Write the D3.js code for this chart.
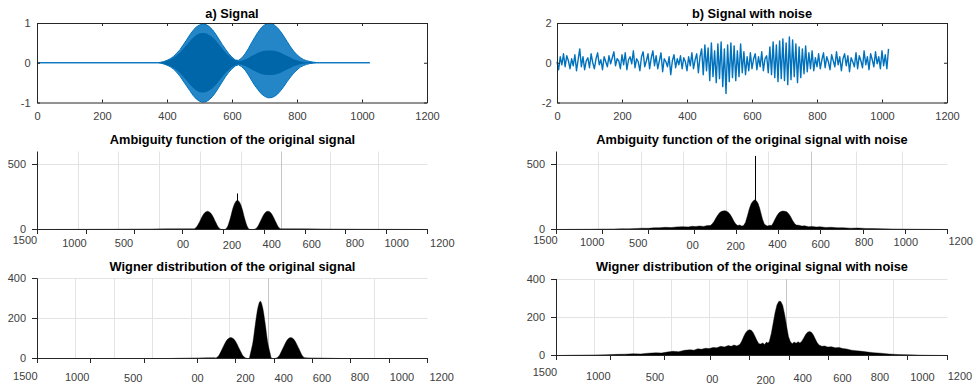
<!DOCTYPE html>
<html>
<head>
<meta charset="utf-8">
<script src="https://cdn.jsdelivr.net/npm/d3@7"></script>
<style>
  html, body { margin: 0; padding: 0; background: #fff; }
  svg { display: block; }
</style>
</head>
<body>
<svg id="chart" width="975" height="385"></svg>
<script>
// ---------- data ----------
// time axis ticks for the two signal plots
const timeTicks = [0, 200, 400, 600, 800, 1000, 1200];
const signalYTicks = [-1, 0, 1];
const noisyYTicks = [-2, 0, 2];

// clean signal: envelope of the two chirp packets (upper, lower, dense core)
const sigT = [0, 370, 380, 390, 400, 410, 420, 430, 440, 450, 460, 470, 480, 490, 500, 510, 520, 530, 540, 550,
  560, 570, 580, 590, 600, 610, 620, 630, 640, 650, 660, 670, 680, 690, 700, 710, 720, 730, 740, 750,
  760, 770, 780, 790, 800, 810, 820, 830, 840, 850, 860, 870, 1024];
const sigUpper = [0, 0, 0.01, 0.03, 0.06, 0.10, 0.16, 0.24, 0.33, 0.45, 0.57, 0.70, 0.81, 0.90, 0.95, 0.97, 0.96, 0.91, 0.83, 0.72,
  0.59, 0.46, 0.34, 0.23, 0.14, 0.07, 0.06, 0.12, 0.22, 0.35, 0.50, 0.64, 0.77, 0.88, 0.95, 0.99, 0.99, 0.95, 0.88, 0.78,
  0.66, 0.53, 0.40, 0.29, 0.20, 0.13, 0.08, 0.05, 0.03, 0.015, 0.005, 0, 0];
const sigLower = [0, 0, -0.01, -0.03, -0.06, -0.10, -0.16, -0.24, -0.34, -0.46, -0.58, -0.70, -0.82, -0.91, -0.97, -0.99, -0.98, -0.93, -0.85, -0.74,
  -0.61, -0.48, -0.35, -0.24, -0.15, -0.08, -0.05, -0.10, -0.18, -0.30, -0.44, -0.57, -0.68, -0.78, -0.84, -0.88, -0.88, -0.85, -0.79, -0.70,
  -0.59, -0.47, -0.36, -0.26, -0.18, -0.11, -0.07, -0.04, -0.02, -0.01, -0.005, 0, 0];
const sigCore = [0, 0, 0.01, 0.02, 0.05, 0.08, 0.13, 0.19, 0.26, 0.35, 0.44, 0.54, 0.63, 0.70, 0.74, 0.75, 0.74, 0.70, 0.64, 0.56,
  0.46, 0.36, 0.26, 0.18, 0.11, 0.06, 0.04, 0.05, 0.08, 0.12, 0.17, 0.21, 0.25, 0.28, 0.30, 0.31, 0.31, 0.30, 0.28, 0.25,
  0.21, 0.17, 0.13, 0.09, 0.06, 0.04, 0.025, 0.015, 0.01, 0.005, 0, 0, 0];

// noisy signal, one value every 5 samples
const noisyStep = 5;
const noisyValues = [
  0.05, -0.35, 0.3, -0.1, 0.45, -0.2, 0.35, 0.1, -0.3, 0.2,
  -0.15, 0.4, -0.4, 0.15, 0.7, -0.2, 0.3, -0.35, 0.1, 0.25,
  -0.25, 0.45, 0.0, -0.3, 0.2, 0.5, -0.1, 0.15, -0.35, 0.3,
  0.05, -0.2, 0.35, -0.05, 0.25, 0.55, -0.15, 0.2, 0.1, -0.3,
  0.4, -0.1, 0.5, -0.35, 0.15, 0.3, -0.05, 0.6, -0.25, 0.2,
  0.05, -0.4, 0.3, 0.55, -0.2, 0.1, 0.45, -0.3, 0.25, 0.6,
  -0.15, 0.35, -0.3, 0.1, 0.5, -0.45, 0.2, 0.05, -0.2, 0.3,
  -0.6, 0.1, 0.4, -0.25, 0.2, -0.1, 0.35, -0.3, 0.25, 0.05,
  -0.4, 0.3, -0.15, 0.5, -0.3, 0.15, 0.45, -0.5, 0.3, 0.7,
  -0.6, 0.9, -0.4, 0.75, -0.9, 1.0, -0.7, 0.6, -1.0, 0.95,
  -0.8, 1.05, -1.2, 0.7, -1.55, 0.9, -0.95, 1.0, -0.75, 0.85,
  -0.9, 0.6, -0.7, 0.95, -0.5, 0.55, -0.6, 0.3, -0.4, 0.5,
  -0.3, 0.2, 0.45, -0.35, 0.3, -0.2, 0.55, -0.4, 0.2, 0.35,
  -0.5, 0.8, -0.6, 1.05, -0.75, 0.9, -0.95, 1.1, -0.8, 1.2,
  -0.9, 1.0, -1.1, 1.3, -0.85, 1.15, -0.7, 0.95, -1.0, 0.8,
  -0.75, 0.7, -0.55, 0.85, -0.45, 0.5, -0.3, 0.6, -0.4, 0.25,
  -0.2, 0.45, -0.3, 0.15, 0.5, -0.25, 0.3, 0.05, -0.35, 0.4,
  0.1, -0.2, 0.55, -0.1, 0.3, -0.4, 0.2, 0.45, -0.15, 0.35,
  -0.45, 0.25, 0.05, -0.2, 0.5, -0.3, 0.35, 0.1, -0.25, 0.6,
  -0.1, 0.3, -0.35, 0.45, 0.15, -0.2, 0.55, -0.05, 0.3, -0.3,
  0.6, -0.15, 0.4, -0.3, 0.7
];

// lag axis of the distribution plots
const lagTickValues = [-1500, -1000, -500, 0, 200, 400, 600, 800, 1000, 1200];
const lagTickLabels = ["1500", "1000", "500", "00", "200", "400", "600", "800", "1000", "1200"];
const gridValues = [200, 400, 600, 800, 1000, 1200, 1700, 2200];

// ambiguity function magnitude, clean signal
const ambCleanX = [0, 200, 400, 600, 750,
  821, 835, 850, 864, 879, 893, 907, 922, 936, 950, 965, 975,
  985, 988, 1000, 1013, 1025, 1038, 1050, 1062, 1075, 1087, 1100, 1112, 1122,
  1132, 1140, 1154, 1168, 1182, 1196, 1210, 1224, 1238, 1252, 1266, 1280,
  1300, 1500, 1700, 1900, 2048];
const ambCleanY = [0, 1, 2, 4, 5,
  5, 20, 56, 99, 130, 141, 130, 99, 56, 18, 2, 0,
  0, 3, 29, 90, 158, 207, 225, 207, 158, 90, 29, 3, 0,
  0, 3, 18, 56, 99, 130, 141, 130, 99, 56, 18, 5,
  5, 4, 2, 1, 0];
const ambCleanSpike = [1052, 277];

// ambiguity function magnitude, noisy signal
const ambNoisyX = [0, 60, 120, 180, 240, 300, 340, 380, 420, 450, 480, 510, 540, 570, 600, 630, 660, 690, 710, 730, 750, 770, 790,
  805, 815, 825, 835, 845, 855, 865, 873, 882, 891, 900, 910, 920, 930, 940, 950,
  960, 970, 980, 990, 1000, 1010, 1020, 1030, 1039, 1048, 1056, 1064, 1072, 1080, 1088, 1096,
  1106, 1116, 1126, 1135, 1145, 1155, 1165, 1175, 1186, 1196, 1206, 1216, 1226, 1236, 1246, 1256,
  1270, 1285, 1300, 1320, 1340, 1360, 1380, 1410, 1440, 1470, 1500, 1540, 1580, 1620, 1660, 1700, 1760, 1820, 1880, 1950, 2048];
const ambNoisyY = [0, 1, 1.5, 2, 3.5, 4, 6, 5, 8, 10, 9, 13, 14, 17, 15, 20, 22, 20, 25, 23, 27, 24, 30,
  30, 42, 62, 88, 112, 130, 140, 143, 145, 141, 132, 115, 90, 62, 40, 30,
  35, 26, 30, 55, 105, 160, 200, 220, 228, 220, 200, 165, 120, 75, 45, 32,
  26, 32, 30, 50, 80, 108, 128, 138, 142, 140, 136, 122, 100, 72, 48, 34,
  33, 26, 28, 22, 24, 19, 21, 16, 17, 13, 14, 10, 11, 8, 7, 6, 4, 3, 2, 1, 0];
const ambNoisySpike = [1042, 566];

// Wigner distribution, clean signal
const wvdCleanX = [0, 700, 730, 850, 930,
  935, 951, 967, 983, 999, 1015, 1031, 1047, 1063, 1079, 1095, 1103,
  1106, 1112, 1119, 1132, 1144, 1157, 1170, 1183, 1196, 1208, 1221, 1228, 1236,
  1240, 1254, 1269, 1284, 1300, 1315, 1330, 1345, 1360, 1376, 1391, 1404,
  1440, 1520, 1600, 2048];
const wvdCleanY = [0, 0, 1, 3, 4,
  3, 14, 42, 74, 97, 105, 97, 74, 42, 14, 2, 0,
  0, 3, 29, 86, 172, 252, 286, 252, 172, 86, 29, 3, 0,
  0, 2, 14, 42, 74, 97, 105, 97, 74, 42, 14, 4,
  3, 1.5, 0, 0];

// Wigner distribution, noisy signal
const wvdNoisyX = [0, 60, 120, 200, 260, 320, 360, 400, 440, 480, 520, 550, 580, 610, 640, 670, 700, 720, 740, 760,
  780, 800, 820, 840, 860, 880, 900, 915, 930, 945,
  960, 970, 980, 990, 1000, 1010, 1020, 1030, 1040, 1050, 1060, 1070,
  1080, 1090, 1100, 1108,
  1115, 1125, 1135, 1145, 1155, 1165, 1175, 1185, 1195, 1205, 1215, 1225,
  1235, 1245, 1255, 1265, 1275,
  1285, 1295, 1305, 1315, 1325, 1335, 1345, 1355, 1365, 1375,
  1390, 1405, 1420, 1440, 1460, 1480, 1500, 1520, 1545, 1570, 1600, 1630, 1660, 1700, 1740, 1790, 1840, 1900, 1960, 2048];
const wvdNoisyY = [0, 1, 2, 3, 4, 6, 7, 9, 8, 12, 14, 13, 18, 22, 20, 27, 30, 28, 35, 33,
  38, 36, 42, 40, 48, 45, 52, 48, 55, 50,
  58, 75, 98, 118, 130, 135, 132, 120, 100, 78, 62, 60,
  66, 58, 70, 64,
  75, 115, 170, 225, 265, 284, 282, 262, 215, 155, 100, 72,
  62, 70, 64, 72, 66,
  75, 92, 110, 122, 126, 122, 108, 88, 68, 55,
  48, 50, 44, 46, 40, 42, 36, 34, 28, 25, 22, 18, 15, 12, 8, 5, 4, 2, 1, 0];

// ---------- drawing ----------
const svg = d3.select("#chart");
const FONT = '"Liberation Sans", Arial, Helvetica, sans-serif';
const BLUE = "#0072BD";
const AXIS = "#262626";
const TEXT = "#404040";

function title(cx, cy, txt) {
  svg.append("text")
    .attr("x", cx).attr("y", cy).attr("dy", "0.35em")
    .attr("text-anchor", "middle")
    .attr("font-family", FONT).attr("font-weight", "bold")
    .attr("font-size", "12.8px").attr("fill", "#000")
    .text(txt);
}

function styleAxis(sel) {
  sel.attr("font-family", FONT).attr("font-size", 11).attr("color", AXIS);
  sel.selectAll("text").attr("fill", TEXT);
}

// framed time-domain plot
function signalFrame(p) {
  const g = svg.append("g").attr("transform", `translate(${p.left},${p.top})`);
  const x = d3.scaleLinear().domain([0, 1200]).range([0, p.width]);
  const y = d3.scaleLinear().domain(p.yDomain).range([p.height, 0]);
  const fmt = d => String(d);

  const plot = g.append("g");

  g.append("g").attr("transform", `translate(0,${p.height})`)
    .call(d3.axisBottom(x).tickValues(timeTicks).tickSizeInner(-3).tickSizeOuter(0).tickPadding(9.5).tickFormat(fmt))
    .call(styleAxis);
  g.append("g")
    .call(d3.axisTop(x).tickValues(timeTicks).tickSizeInner(-3).tickSizeOuter(0).tickFormat(""))
    .call(styleAxis);
  g.append("g")
    .call(d3.axisLeft(y).tickValues(p.yTicks).tickSizeInner(-3).tickSizeOuter(0).tickPadding(p.yPad).tickFormat(fmt))
    .call(styleAxis);
  g.append("g").attr("transform", `translate(${p.width},0)`)
    .call(d3.axisRight(y).tickValues(p.yTicks).tickSizeInner(-3).tickSizeOuter(0).tickFormat(""))
    .call(styleAxis);

  title(p.left + p.width / 2, 13.3, p.title);
  return { plot, x, y };
}

// a) clean signal
{
  const { plot, x, y } = signalFrame({
    left: 37, top: 23, width: 390, height: 79.5,
    yDomain: [-1, 1], yTicks: signalYTicks, yPad: 6.5, title: "a) Signal"
  });
  const idx = d3.range(sigT.length);
  plot.append("path")
    .attr("d", d3.area().x(i => x(sigT[i])).y0(i => y(sigLower[i])).y1(i => y(sigUpper[i]))(idx))
    .attr("fill", BLUE).attr("fill-opacity", 0.86)
    .attr("stroke", BLUE).attr("stroke-width", 1);
  plot.append("path")
    .attr("d", d3.area().x(i => x(sigT[i])).y0(i => y(-sigCore[i])).y1(i => y(sigCore[i]))(idx))
    .attr("fill", "#0066aa").attr("stroke", "none");
}

// b) noisy signal
{
  const { plot, x, y } = signalFrame({
    left: 557, top: 23, width: 390, height: 79.5,
    yDomain: [-2, 2], yTicks: noisyYTicks, yPad: 5.5, title: "b) Signal with noise"
  });
  plot.append("path")
    .attr("d", d3.line().x((d, i) => x(i * noisyStep)).y(d => y(d))(noisyValues))
    .attr("fill", "none").attr("stroke", BLUE).attr("stroke-width", 1.4)
    .attr("stroke-linejoin", "round");
}

// distribution plots with the composite lag axis
function distPanel(p) {
  const y = d3.scaleLinear().domain([0, p.yMax]).range([p.base + 0.5, p.top]);
  const xd = d3.scaleLinear().domain([0, 2048]).range([p.x0 + 0.5, p.x1 + 0.5]);
  const xt = d3.scaleLinear().domain([-1500, -500, 0, 1200]).range(p.tickKnots);
  const xg = d3.scaleLinear().domain([0, 1200, 2700]).range(p.gridKnots);
  const crisp = v => Math.round(v - 0.5) + 0.5;
  const g = svg.append("g");

  // grid
  p.yTicks.filter(v => v > 0).forEach(v => {
    g.append("line")
      .attr("x1", p.x0 + 0.5).attr("x2", p.x1 + 0.5)
      .attr("y1", crisp(y(v))).attr("y2", crisp(y(v)))
      .attr("stroke", "#e3e3e3").attr("stroke-width", 1);
  });
  gridValues.forEach(v => {
    g.append("line")
      .attr("x1", crisp(xg(v))).attr("x2", crisp(xg(v)))
      .attr("y1", p.top).attr("y2", p.base + 0.5)
      .attr("stroke", v === 1200 ? "#c6c6c6" : "#e3e3e3").attr("stroke-width", 1);
  });

  // filled magnitude
  const idx = d3.range(p.xs.length);
  g.append("path")
    .attr("d", d3.area().curve(p.curve)
      .x(i => xd(p.xs[i])).y0(y(0)).y1(i => y(p.ys[i]))(idx))
    .attr("fill", "#000").attr("stroke", "#000").attr("stroke-width", 0.4);
  if (p.spike) {
    g.append("line")
      .attr("x1", crisp(xd(p.spike[0]))).attr("x2", crisp(xd(p.spike[0])))
      .attr("y1", y(0)).attr("y2", y(p.spike[1]))
      .attr("stroke", "#000").attr("stroke-width", 1);
  }

  // y axis
  g.append("line")
    .attr("x1", p.x0 + 0.5).attr("x2", p.x0 + 0.5)
    .attr("y1", p.top).attr("y2", p.base + 0.5)
    .attr("stroke", AXIS).attr("stroke-width", 1);
  p.yTicks.forEach(v => {
    const yy = crisp(y(v));
    g.append("line")
      .attr("x1", p.x0 - 5).attr("x2", p.x0 + 0.5).attr("y1", yy).attr("y2", yy)
      .attr("stroke", AXIS).attr("stroke-width", 1);
    g.append("text")
      .attr("x", p.x0 - 11).attr("y", y(v)).attr("dy", "0.35em")
      .attr("text-anchor", "end").attr("font-family", FONT).attr("font-size", 11)
      .attr("fill", TEXT).text(String(v));
  });

  // lag axis
  g.append("line")
    .attr("x1", p.x0).attr("x2", p.x1 + 1)
    .attr("y1", p.base + 0.5).attr("y2", p.base + 0.5)
    .attr("stroke", AXIS).attr("stroke-width", 1.2);
  lagTickValues.forEach((v, i) => {
    const xx = crisp(xt(v));
    g.append("line")
      .attr("x1", xx).attr("x2", xx).attr("y1", p.base + 0.5).attr("y2", p.base + 5)
      .attr("stroke", AXIS).attr("stroke-width", 1);
    g.append("text")
      .attr("x", p.labelX[i]).attr("y", p.labelY[i]).attr("dy", "0.35em")
      .attr("text-anchor", "middle").attr("font-family", FONT).attr("font-size", 11)
      .attr("fill", TEXT).text(lagTickLabels[i]);
  });

  title((p.x0 + p.x1) / 2 + 0.5, p.titleY, p.title);
}

distPanel({
  title: "Ambiguity function of the original signal", titleY: 140,
  x0: 37, x1: 427, base: 229, top: 151.5, yMax: 600, yTicks: [0, 500],
  tickKnots: [37.5, 134.5, 182.5, 427.5], gridKnots: [37.5, 281.7, 427.5],
  labelX: [25, 74.5, 124, 183, 232, 271.7, 311.7, 355, 396.7, 442.3],
  labelY: [240.5, 243, 243.5, 244.3, 245.5, 244.3, 244.5, 243.3, 243.3, 243.3],
  xs: ambCleanX, ys: ambCleanY, spike: ambCleanSpike, curve: d3.curveMonotoneX
});

distPanel({
  title: "Ambiguity function of the original signal with noise", titleY: 139.5,
  x0: 556, x1: 947, base: 229, top: 151.5, yMax: 600, yTicks: [0, 500],
  tickKnots: [556.5, 648.3, 694, 947.5], gridKnots: [556.5, 811, 947.5],
  labelX: [545.5, 592.2, 638.3, 692.7, 735.8, 777.5, 820.8, 864.2, 905.8, 960.7],
  labelY: [240, 242.3, 243.3, 245, 246, 244, 244, 242.3, 242.3, 241],
  xs: ambNoisyX, ys: ambNoisyY, spike: ambNoisySpike, curve: d3.curveLinear
});

distPanel({
  title: "Wigner distribution of the original signal", titleY: 266.7,
  x0: 37, x1: 427, base: 358, top: 278.5, yMax: 400, yTicks: [0, 200, 400],
  tickKnots: [37.5, 144, 197.3, 427.5], gridKnots: [37.5, 268, 427.5],
  labelX: [25.3, 77.2, 133.3, 197.5, 245.5, 283.7, 322, 360, 402, 441.7],
  labelY: [376, 377.5, 378, 378, 378, 378, 378, 377.5, 377.5, 377],
  xs: wvdCleanX, ys: wvdCleanY, spike: null, curve: d3.curveMonotoneX
});

distPanel({
  title: "Wigner distribution of the original signal with noise", titleY: 266.7,
  x0: 556, x1: 947, base: 355, top: 279, yMax: 400, yTicks: [0, 200, 400],
  tickKnots: [556.5, 664.3, 710, 947.5], gridKnots: [556.5, 786, 947.5],
  labelX: [545, 598.3, 655, 712.3, 765.8, 802.8, 842.5, 880, 922.5, 960],
  labelY: [372.5, 376, 377.5, 379, 380, 378.5, 378.5, 377.5, 377, 376],
  xs: wvdNoisyX, ys: wvdNoisyY, spike: null, curve: d3.curveLinear
});
</script>
</body>
</html>
